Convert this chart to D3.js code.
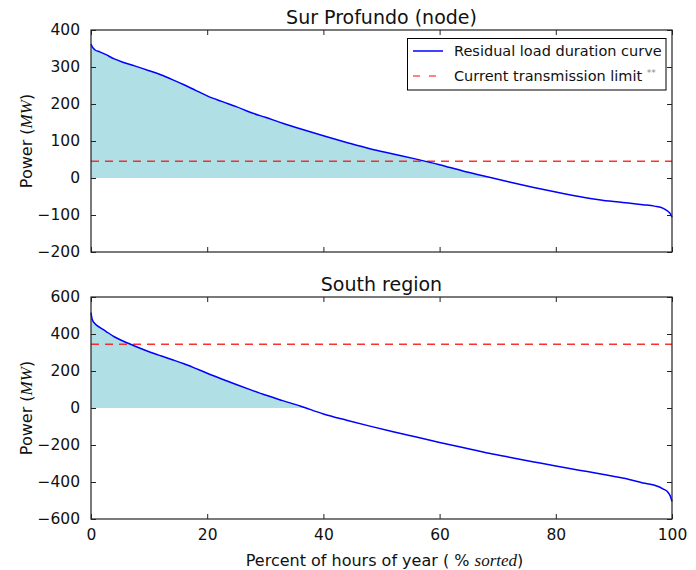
<!DOCTYPE html>
<html>
<head>
<meta charset="utf-8">
<script src="https://cdn.jsdelivr.net/npm/d3@7"></script>
<style>
  body { margin: 0; background: #fff; }
  svg { display: block; font-family: "DejaVu Sans", sans-serif; }
</style>
</head>
<body>
<svg id="chart"></svg>
<script>
// sorted percent of hours (x positions of the read-off points)
const percent = [0, 0.2, 0.7, 1.5, 2.5, 4, 5.5, 7.5, 10, 12, 14, 16, 18, 20, 22.5, 25, 27.5, 30, 33, 36,
  40, 44, 48, 52, 56, 60, 64, 68, 72, 76, 80, 84, 88, 92, 95, 97, 98.5, 99.3, 99.7, 100];

// residual load, Sur Profundo node (MW)
const surProfundo = [362, 355, 346, 341, 334, 322, 313, 303, 290, 279, 266, 252, 237, 222, 207, 193, 177, 164, 148, 133,
  114, 96, 79, 65, 51, 36, 19, 4, -11, -25, -38, -50, -60, -67, -72, -76, -82, -90, -96, -106];

// residual load, South region (MW)
const southRegion = [515, 480, 455, 436, 416, 385, 362, 335, 304, 282, 261, 239, 214, 188, 157, 127, 98, 70, 40, 11,
  -32, -66, -98, -128, -157, -186, -214, -242, -266, -290, -314, -336, -358, -381, -405, -418, -438, -455, -475, -505];

const limits = [45, 345];
const titles = ["Sur Profundo (node)", "South region"];
const yDomains = [[-200, 400], [-600, 600]];
const yTicks = [[-200, -100, 0, 100, 200, 300, 400], [-600, -400, -200, 0, 200, 400, 600]];
const xTicks = [0, 20, 40, 60, 80, 100];

const width = 696, height = 570;
const left = 91, right = 672;
const panels = [{top: 30, bottom: 252}, {top: 297, bottom: 519}];
const series = [surProfundo, southRegion];

const svg = d3.select("#chart").attr("width", width).attr("height", height);
svg.append("rect").attr("width", width).attr("height", height).attr("fill", "#fff");

const x = d3.scaleLinear().domain([0, 100]).range([left, right]);

panels.forEach((p, i) => {
  const y = d3.scaleLinear().domain(yDomains[i]).range([p.bottom, p.top]);
  const pts = percent.map((pc, k) => ({pc, v: series[i][k]}));
  const g = svg.append("g");

  // clip: only the part above zero is filled
  svg.append("clipPath").attr("id", "pos" + i)
    .append("rect")
    .attr("x", left).attr("y", p.top)
    .attr("width", right - left).attr("height", y(0) - p.top);

  g.append("path")
    .datum(pts)
    .attr("clip-path", `url(#pos${i})`)
    .attr("fill", "#b0e0e6")
    .attr("d", d3.area().curve(d3.curveMonotoneX)
      .x(d => x(d.pc)).y0(y(0)).y1(d => y(d.v)));

  g.append("line")
    .attr("x1", left).attr("x2", right)
    .attr("y1", y(limits[i])).attr("y2", y(limits[i]))
    .attr("stroke", "#ff1a1a").attr("stroke-opacity", 0.9)
    .attr("stroke-width", 1.5).attr("stroke-dasharray", "8,6");

  g.append("path")
    .datum(pts)
    .attr("fill", "none")
    .attr("stroke", "#0000ff")
    .attr("stroke-width", 1.5)
    .attr("d", d3.line().curve(d3.curveMonotoneX).x(d => x(d.pc)).y(d => y(d.v)));

  // axes, ticks pointing inward on all four sides
  const axB = g.append("g").attr("transform", `translate(0,${p.bottom})`)
    .call(d3.axisBottom(x).tickValues(xTicks).tickSizeInner(-5).tickSizeOuter(0).tickPadding(10));
  const axT = g.append("g").attr("transform", `translate(0,${p.top})`)
    .call(d3.axisTop(x).tickValues(xTicks).tickSizeInner(-5).tickSizeOuter(0));
  const axL = g.append("g").attr("transform", `translate(${left},0)`)
    .call(d3.axisLeft(y).tickValues(yTicks[i]).tickSizeInner(-5).tickSizeOuter(0).tickPadding(11)
      .tickFormat(d => d < 0 ? "\u2212" + Math.abs(d) : d));
  const axR = g.append("g").attr("transform", `translate(${right},0)`)
    .call(d3.axisRight(y).tickValues(yTicks[i]).tickSizeInner(-5).tickSizeOuter(0));

  [axB, axT, axL, axR].forEach(a => {
    a.select(".domain").remove();
    a.selectAll("line").attr("stroke", "#222");
    a.selectAll("text").attr("font-family", "DejaVu Sans").attr("font-size", 15.5).attr("fill", "#111");
  });
  axT.selectAll("text").remove();
  axR.selectAll("text").remove();
  if (i === 0) axB.selectAll("text").remove();

  g.append("rect")
    .attr("x", left).attr("y", p.top)
    .attr("width", right - left).attr("height", p.bottom - p.top)
    .attr("fill", "none").attr("stroke", "#222").attr("stroke-width", 1.2);

  g.append("text")
    .attr("x", (left + right) / 2).attr("y", p.top - 6)
    .attr("text-anchor", "middle").attr("font-size", 19).attr("fill", "#111")
    .text(titles[i]);

  const yl = g.append("text")
    .attr("transform", `translate(32,${(p.top + p.bottom) / 2}) rotate(-90)`)
    .attr("text-anchor", "middle").attr("font-size", 16).attr("fill", "#111");
  yl.append("tspan").text("Power (");
  yl.append("tspan").attr("font-family", "Liberation Serif").attr("font-style", "italic").attr("font-size", 17).text("MW");
  yl.append("tspan").text(")");
});

// x label
const xl = svg.append("text")
  .attr("x", (left + right) / 2 + 3).attr("y", 566)
  .attr("text-anchor", "middle").attr("font-size", 16).attr("fill", "#111");
xl.append("tspan").text("Percent of hours of year ( % ");
xl.append("tspan").attr("font-family", "Liberation Serif").attr("font-style", "italic").attr("font-size", 17).text("sorted");
xl.append("tspan").text(")");

// legend
const lg = svg.append("g");
lg.append("rect").attr("x", 407.5).attr("y", 38.5).attr("width", 258.5).attr("height", 51.5)
  .attr("fill", "#fff").attr("stroke", "#000").attr("stroke-width", 1);
lg.append("line").attr("x1", 413).attr("x2", 443).attr("y1", 51).attr("y2", 51)
  .attr("stroke", "#0000ff").attr("stroke-width", 1.5);
lg.append("line").attr("x1", 413).attr("x2", 443).attr("y1", 76).attr("y2", 76)
  .attr("stroke", "#ff2020").attr("stroke-opacity", 0.75).attr("stroke-width", 1.5)
  .attr("stroke-dasharray", "7,9");
lg.append("text").attr("x", 454).attr("y", 56).attr("font-size", 14.5).attr("fill", "#111")
  .text("Residual load duration curve");
const lt = lg.append("text").attr("x", 454).attr("y", 81).attr("font-size", 14.5).attr("fill", "#111");
lt.append("tspan").text("Current transmission limit ");
lt.append("tspan").attr("font-size", 9).attr("fill", "#888").attr("dy", -5).text("**");
</script>
</body>
</html>
